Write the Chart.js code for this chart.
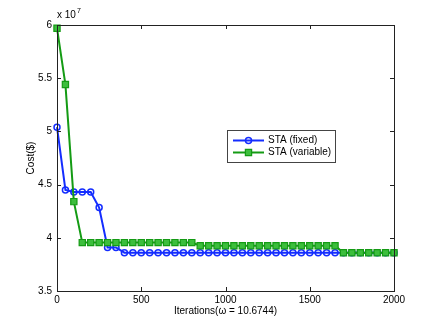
<!DOCTYPE html>
<html>
<head>
<meta charset="utf-8">
<script src="https://cdn.jsdelivr.net/npm/chart.js@4/dist/chart.umd.min.js"></script>
<style>
html,body{margin:0;padding:0;background:#fff;}
canvas{display:block;}
</style>
</head>
<body>
<canvas id="c" width="436" height="328"></canvas>
<script>
const iterations = [0,50,100,150,200,250,300,350,400,450,500,550,600,650,700,750,800,850,900,950,1000,1050,1100,1150,1200,1250,1300,1350,1400,1450,1500,1550,1600,1650,1700,1750,1800,1850,1900,1950,2000];
const costFixed = [5.04e7,4.45e7,4.43e7,4.43e7,4.43e7,4.285e7,3.91e7,3.91e7,
  3.86e7,3.86e7,3.86e7,3.86e7,3.86e7,3.86e7,3.86e7,3.86e7,3.86e7,3.86e7,3.86e7,3.86e7,3.86e7,
  3.86e7,3.86e7,3.86e7,3.86e7,3.86e7,3.86e7,3.86e7,3.86e7,3.86e7,3.86e7,3.86e7,3.86e7,3.86e7,
  3.86e7,3.86e7,3.86e7,3.86e7,3.86e7,3.86e7,3.86e7];
const costVariable = [5.97e7,5.44e7,4.34e7,
  3.955e7,3.955e7,3.955e7,3.955e7,3.955e7,3.955e7,3.955e7,3.955e7,3.955e7,3.955e7,3.955e7,3.955e7,3.955e7,3.955e7,
  3.925e7,3.925e7,3.925e7,3.925e7,3.925e7,3.925e7,3.925e7,3.925e7,3.925e7,3.925e7,3.925e7,3.925e7,3.925e7,3.925e7,3.925e7,3.925e7,3.925e7,
  3.86e7,3.86e7,3.86e7,3.86e7,3.86e7,3.86e7,3.86e7];
const seriesNames = ['STA (fixed)','STA (variable)'];
const xTicks = [0,500,1000,1500,2000];
const yTicks = [3.5e7,4e7,4.5e7,5e7,5.5e7,6e7];
const xLabel = 'Iterations(\u03c9 = 10.6744)';
const yLabel = 'Cost($)';

const FONT = 'Liberation Sans, Arial, Helvetica, sans-serif';
const BLUE = 'rgb(20,45,255)';
const GREEN = 'rgb(20,155,20)';
const GREEN_FILL = 'rgb(60,190,60)';

const frame = {
  id: 'frame',
  afterDraw(chart) {
    const {ctx, chartArea: a, scales} = chart;
    ctx.save();
    ctx.strokeStyle = '#222';
    ctx.lineWidth = 1;
    ctx.strokeRect(Math.round(a.left)+0.5, Math.round(a.top)+0.5, Math.round(a.right-a.left), Math.round(a.bottom-a.top));
    const L = 4;
    ctx.beginPath();
    xTicks.forEach(v => {
      const x = Math.round(scales.x.getPixelForValue(v)) + 0.5;
      ctx.moveTo(x, a.bottom); ctx.lineTo(x, a.bottom - L);
      ctx.moveTo(x, a.top); ctx.lineTo(x, a.top + L);
    });
    yTicks.forEach(v => {
      const y = Math.round(scales.y.getPixelForValue(v)) + 0.5;
      ctx.moveTo(a.left, y); ctx.lineTo(a.left + L, y);
      ctx.moveTo(a.right, y); ctx.lineTo(a.right - L, y);
    });
    ctx.stroke();
    // exponent label
    ctx.fillStyle = '#000';
    ctx.textBaseline = 'middle';
    ctx.textAlign = 'left';
    ctx.font = '10px ' + FONT;
    ctx.fillText('x 10', a.left, 15);
    const w = ctx.measureText('x 10').width;
    ctx.font = '7px ' + FONT;
    ctx.fillText('7', a.left + w + 1, 11);
    // legend
    const bx = 227, by = 130, bw = 108, bh = 32;
    ctx.fillStyle = '#fff';
    ctx.fillRect(bx, by, bw, bh);
    ctx.strokeStyle = '#444';
    ctx.lineWidth = 1;
    ctx.strokeRect(bx + 0.5, by + 0.5, bw, bh);
    chart.data.datasets.forEach((ds, i) => {
      const y = by + 10.5 + i * 12;
      ctx.strokeStyle = ds.borderColor;
      ctx.lineWidth = 2;
      ctx.beginPath(); ctx.moveTo(233, y); ctx.lineTo(264, y); ctx.stroke();
      ctx.lineWidth = ds.pointBorderWidth;
      ctx.beginPath();
      if (ds.pointStyle === 'circle') {
        ctx.arc(248.5, y, ds.pointRadius, 0, Math.PI * 2);
        ctx.stroke();
      } else {
        const s = ds.pointRadius * Math.SQRT1_2;
        ctx.fillStyle = ds.pointBackgroundColor;
        ctx.rect(248.5 - s, y - s, 2 * s, 2 * s);
        ctx.fill(); ctx.stroke();
      }
      ctx.fillStyle = '#000';
      ctx.font = '10px ' + FONT;
      ctx.textBaseline = 'middle';
      ctx.fillText(ds.label, 268, y);
    });
    ctx.restore();
  }
};

new Chart(document.getElementById('c'), {
  type: 'line',
  data: {
    datasets: [
      {
        label: seriesNames[0],
        data: iterations.map((x, i) => ({x, y: costFixed[i]})),
        borderColor: BLUE, borderWidth: 2,
        pointStyle: 'circle', pointRadius: 3, pointBorderWidth: 1.5,
        pointBorderColor: BLUE, pointBackgroundColor: 'rgba(0,0,0,0)',
        clip: false,
        order: 1
      },
      {
        label: seriesNames[1],
        data: iterations.map((x, i) => ({x, y: costVariable[i]})),
        borderColor: GREEN, borderWidth: 2,
        pointStyle: 'rect', pointRadius: 4.4, pointBorderWidth: 1.2,
        pointBorderColor: GREEN, pointBackgroundColor: GREEN_FILL,
        clip: false,
        order: 0
      }
    ]
  },
  options: {
    responsive: false,
    animation: false,
    layout: {padding: {left: 0, top: 25, right: 42, bottom: 0}},
    plugins: {legend: {display: false}, tooltip: {enabled: false}},
    elements: {line: {tension: 0}},
    scales: {
      x: {
        type: 'linear', min: 0, max: 2000,
        afterBuildTicks: s => { s.ticks = xTicks.map(v => ({value: v})); },
        afterFit: s => { s.height = 37; },
        grid: {display: false, drawTicks: false},
        border: {display: false},
        ticks: {color: '#000', font: {family: FONT, size: 10}, padding: 3, maxRotation: 0, callback: v => String(v)},
        title: {display: true, text: xLabel, color: '#000', font: {family: FONT, size: 10}, padding: {top: 0, bottom: 11}}
      },
      y: {
        type: 'linear', min: 3.5e7, max: 6e7,
        afterBuildTicks: s => { s.ticks = yTicks.map(v => ({value: v})); },
        afterFit: s => { s.width = 57; },
        grid: {display: false, drawTicks: false},
        border: {display: false},
        ticks: {color: '#000', font: {family: FONT, size: 10}, padding: 5, callback: v => String(v / 1e7)},
        title: {display: true, text: yLabel, color: '#000', font: {family: FONT, size: 10}, padding: {top: 25, bottom: 0}}
      }
    }
  },
  plugins: [frame]
});
</script>
</body>
</html>
